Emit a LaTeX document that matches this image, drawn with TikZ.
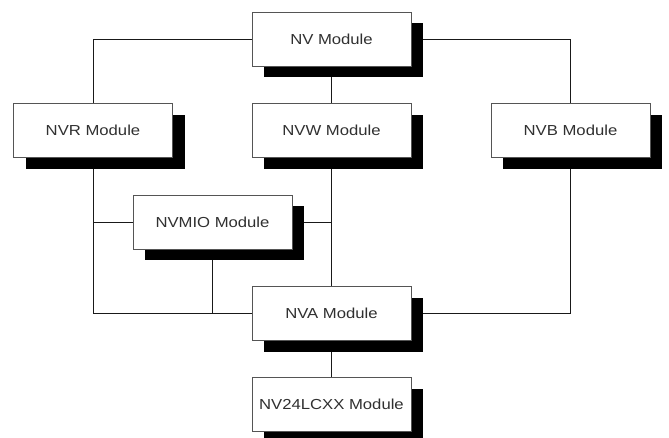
\documentclass[tikz,border=0pt]{standalone}
\usepackage{fontspec}
\setmainfont[FakeStretch=1.15]{Liberation Sans}
\usetikzlibrary{shadows}
\pgfdeclarelayer{background}
\pgfsetlayers{background,main}
\definecolor{boxline}{HTML}{555555}
\definecolor{txt}{HTML}{303030}
\tikzset{
  module/.style={draw=boxline, line width=0.8pt, fill=white, minimum width=159pt, minimum height=54pt,
    inner sep=0pt, text=txt, font=\fontsize{14.5pt}{17pt}\selectfont,
    drop shadow={shadow xshift=12pt, shadow yshift=-11pt, fill=black, opacity=1}},
  link/.style={draw=black!90, line width=0.8pt}
}
\begin{document}
\begin{tikzpicture}[x=1pt,y=-1pt]
\useasboundingbox (0,0) rectangle (669,437);
\node[module] (nv)   at (331.5,39)    {NV Module};
\node[module] (nvr)  at (93,130.5)    {NVR Module};
\node[module] (nvw)  at (331.5,130.5) {NVW Module};
\node[module] (nvb)  at (570.5,130.5) {NVB Module};
\node[module] (nvmio) at (212.5,222)  {NVMIO Module};
\node[module] (nva)  at (331.5,313.5) {NVA Module};
\node[module] (nv24) at (331.5,404.5) {NV24LCXX Module};
\begin{pgfonlayer}{background}
\draw[link] (nv.west) -| (nvr.north);
\draw[link] (nv.east) -| (nvb.north);
\draw[link] (nv.south) -- (nvw.north);
\draw[link] (nvr.south) |- (nva.west);
\draw[link] (nvmio.west) -- (nvmio.west -| nvr.south);
\draw[link] (nvmio.east) -- (nvmio.east -| nvw.south);
\draw[link] (nvw.south) -- (nva.north);
\draw[link] ([xshift=-0.5pt]nvmio.south) -- ([xshift=-0.5pt]nvmio.south |- nva.west);
\draw[link] (nvb.south) |- (nva.east);
\draw[link] (nva.south) -- (nv24.north);
\end{pgfonlayer}
\end{tikzpicture}
\end{document}
